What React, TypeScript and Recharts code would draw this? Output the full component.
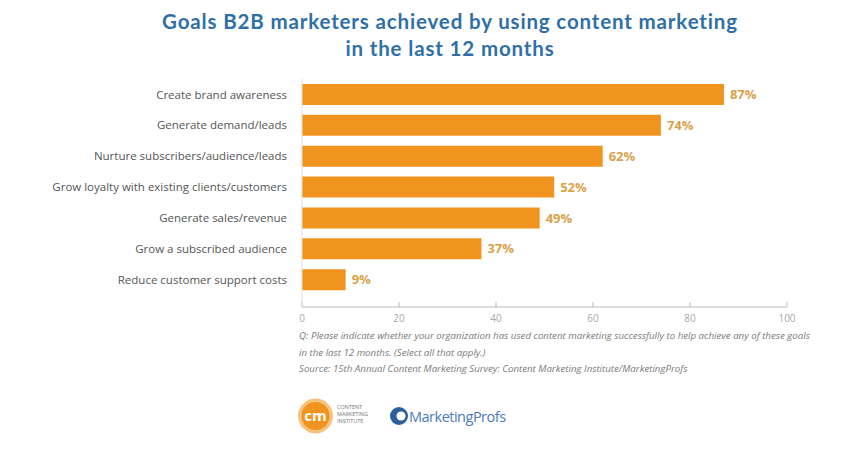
import { BarChart, Bar, XAxis, YAxis, LabelList } from "recharts";

const goals = [
  "Create brand awareness",
  "Generate demand/leads",
  "Nurture subscribers/audience/leads",
  "Grow loyalty with existing clients/customers",
  "Generate sales/revenue",
  "Grow a subscribed audience",
  "Reduce customer support costs",
];
const percents = [87, 74, 62, 52, 49, 37, 9];
const xTicks = [0, 20, 40, 60, 80, 100];

const titleLines = [
  "Goals B2B marketers achieved by using content marketing",
  "in the last 12 months",
];
const notes = [
  "Q: Please indicate whether your organization has used content marketing successfully to help achieve any of these goals",
  "in the last 12 months. (Select all that apply.)",
  "Source: 15th Annual Content Marketing Survey: Content Marketing Institute/MarketingProfs",
];

const BAR = "#f0941f";
const VALUE = "#d9a24a";
const TITLE = "#2f6fa7";
const FONT = "'Open Sans', sans-serif";

const data = goals.map((g, i) => ({ name: g, value: percents[i] }));

function Logos() {
  return (
    <svg
      width={846}
      height={474}
      style={{ position: "absolute", left: 0, top: 0, pointerEvents: "none" }}
    >
      {/* CMI badge */}
      <circle cx={315.5} cy={416} r={17.5} fill="#f6c27e" />
      <circle cx={315.5} cy={416} r={14} fill="#f0941f" />
      <text
        x={315.5}
        y={421}
        textAnchor="middle"
        fontFamily={FONT}
        fontWeight={700}
        fontSize={15}
        fill="#fff"
      >
        cm
      </text>
      {["CONTENT", "MARKETING", "INSTITUTE"].map((t, i) => (
        <text
          key={t}
          x={337}
          y={409 + i * 7}
          fontFamily={FONT}
          fontSize={5.5}
          fill="#777"
        >
          {t}
        </text>
      ))}
      {/* MarketingProfs */}
      <circle cx={399} cy={416} r={9} fill="#2f5e9e" />
      <circle cx={401} cy={416} r={4.5} fill="#fff" />
      <text
        x={409}
        y={422}
        fontFamily={FONT}
        fontSize={14.5}
        letterSpacing={-0.5}
        fill="#4d7ab8"
      >
        MarketingProfs
      </text>
    </svg>
  );
}

export default function App() {
  return (
    <div
      style={{
        position: "fixed",
        left: 0,
        top: 0,
        width: 846,
        height: 474,
        background: "#fff",
        overflow: "hidden",
      }}
    >
      <div
        style={{
          position: "absolute",
          top: 8,
          left: 50,
          width: 800,
          textAlign: "center",
          fontFamily: "Lato, sans-serif",
          fontWeight: 700,
          fontSize: 20.5,
          letterSpacing: 0.85,
          lineHeight: "27px",
          color: TITLE,
        }}
      >
        {titleLines.map((l) => (
          <div key={l}>{l}</div>
        ))}
      </div>

      <div style={{ position: "absolute", left: 0, top: 0 }}>
        <BarChart
          width={846}
          height={340}
          data={data}
          layout="vertical"
          margin={{ top: 79, right: 59, bottom: 3, left: 0 }}
        >
          <XAxis
            type="number"
            domain={[0, 100]}
            ticks={xTicks}
            height={30}
            axisLine={{ stroke: "#bbb" }}
            tickLine={{ stroke: "#bbb" }}
            tickSize={-5}
            tickMargin={13}
            tick={{ fill: "#a8a8a8", fontSize: 10, fontFamily: FONT }}
          />
          <YAxis
            type="category"
            dataKey="name"
            width={302}
            padding={{ top: 0, bottom: 12 }}
            axisLine={{ stroke: "#ddd" }}
            tickLine={false}
            tickSize={0}
            tickMargin={15}
            interval={0}
            tick={{ fill: "#555", fontSize: 11.5, fontFamily: FONT }}
          />
          <Bar dataKey="value" fill={BAR} barSize={21} isAnimationActive={false}>
            <LabelList
              dataKey="value"
              position="right"
              offset={6}
              formatter={(v: number) => `${v}%`}
              fill={VALUE}
              fontSize={13}
              fontWeight={700}
              fontFamily={FONT}
            />
          </Bar>
        </BarChart>
      </div>

      <div
        style={{
          position: "absolute",
          left: 299,
          top: 328,
          fontFamily: FONT,
          fontStyle: "italic",
          fontSize: 9.7,
          lineHeight: "16.5px",
          color: "#7a7a7a",
          whiteSpace: "nowrap",
        }}
      >
        {notes.map((n) => (
          <div key={n}>{n}</div>
        ))}
      </div>

      <Logos />
    </div>
  );
}
